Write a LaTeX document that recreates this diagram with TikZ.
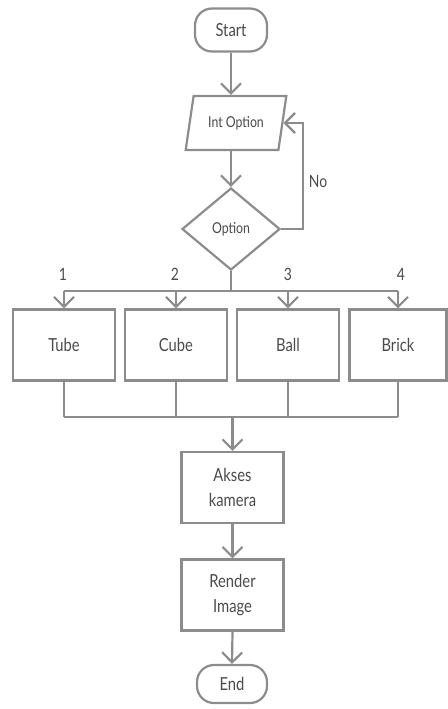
\documentclass[tikz,border=0pt]{standalone}
\usepackage{fontspec}
\setmainfont{Lato}[FakeStretch=0.82]
\usetikzlibrary{shapes.geometric,arrows.meta,calc}
\definecolor{ln}{HTML}{8C8C8C}
\definecolor{tx}{HTML}{4A4A4A}
\begin{document}
\begin{tikzpicture}[x=1pt,y=-1pt,
  every node/.style={text=tx, font=\fontsize{18}{25}\selectfont},
  box/.style={draw=ln, line width=2.2pt, rectangle, minimum width=102pt, minimum height=71pt, align=center, inner sep=2pt},
  term/.style={draw=ln, line width=2.2pt, rectangle, rounded corners=17pt, align=center},
  arr/.style={draw=ln, line width=2.2pt, -{Straight Barb[length=10pt,width=20pt,line width=2.2pt]}},
  ln/.style={draw=ln, line width=2.2pt},
  lbl/.style={font=\fontsize{17}{18}\selectfont}]
\useasboundingbox (0,0) rectangle (447,709);
\node[term, minimum width=72pt, minimum height=43pt] (start) at (231,30) {Start};
\node[trapezium, trapezium left angle=69, trapezium right angle=111, trapezium stretches=true,
      draw=ln, line width=2.2pt, minimum width=101pt, minimum height=54pt, inner sep=0pt,
      font=\fontsize{15}{16}\selectfont] (intopt) at (236,123) {Int Option};
\node[diamond, draw=ln, line width=2.2pt, minimum width=98pt, minimum height=82pt, inner sep=0pt,
      font=\fontsize{15}{16}\selectfont] (opt) at (231,229) {Option};
\node[box] (tube) at (64,345) {Tube};
\node[box] (cube) at (176,345) {Cube};
\node[box] (ball) at (288,345) {Ball};
\node[box, minimum width=97pt] (brick) at (398,345) {Brick};
\node[box] (akses) at (232.5,487.5) {Akses\\kamera};
\node[box] (render) at (232.5,595) {Render\\Image};
\node[term, minimum width=70pt, minimum height=38pt] (end) at (232,684) {End};

\coordinate (split) at (231,291);
\coordinate (join) at (232.5,417);
\coordinate (loop) at (303,229);

\draw[arr] (start.south) -- (start.south |- intopt.north);
\draw[arr] (start.south |- intopt.south) -- (opt.north);
\draw[arr] (opt.east) -- (loop) |- (intopt.east);
\node[lbl] (no) at (318,181) {No};

\draw[ln] (opt.south) -- (split);
\draw[ln] (tube.north |- split) -- (brick.north |- split);
\draw[arr] (tube.north |- split) -- (tube.north);
\draw[arr] (cube.north |- split) -- (cube.north);
\draw[arr] (ball.north |- split) -- (ball.north);
\draw[arr] (brick.north |- split) -- (brick.north);
\node[lbl] (l1) at (63,274) {1};
\node[lbl] (l2) at (175,274) {2};
\node[lbl] (l3) at (288,274) {3};
\node[lbl] (l4) at (401,274) {4};

\draw[ln] (tube.south) -- (tube.south |- join);
\draw[ln] (cube.south) -- (cube.south |- join);
\draw[ln] (ball.south) -- (ball.south |- join);
\draw[ln] (brick.south) -- (brick.south |- join);
\draw[ln] (tube.south |- join) -- (brick.south |- join);
\draw[arr] (join) -- (akses.north);
\draw[arr] (akses.south) -- (render.north);
\draw[arr] (render.south) -- (end.north);
\end{tikzpicture}
\end{document}
